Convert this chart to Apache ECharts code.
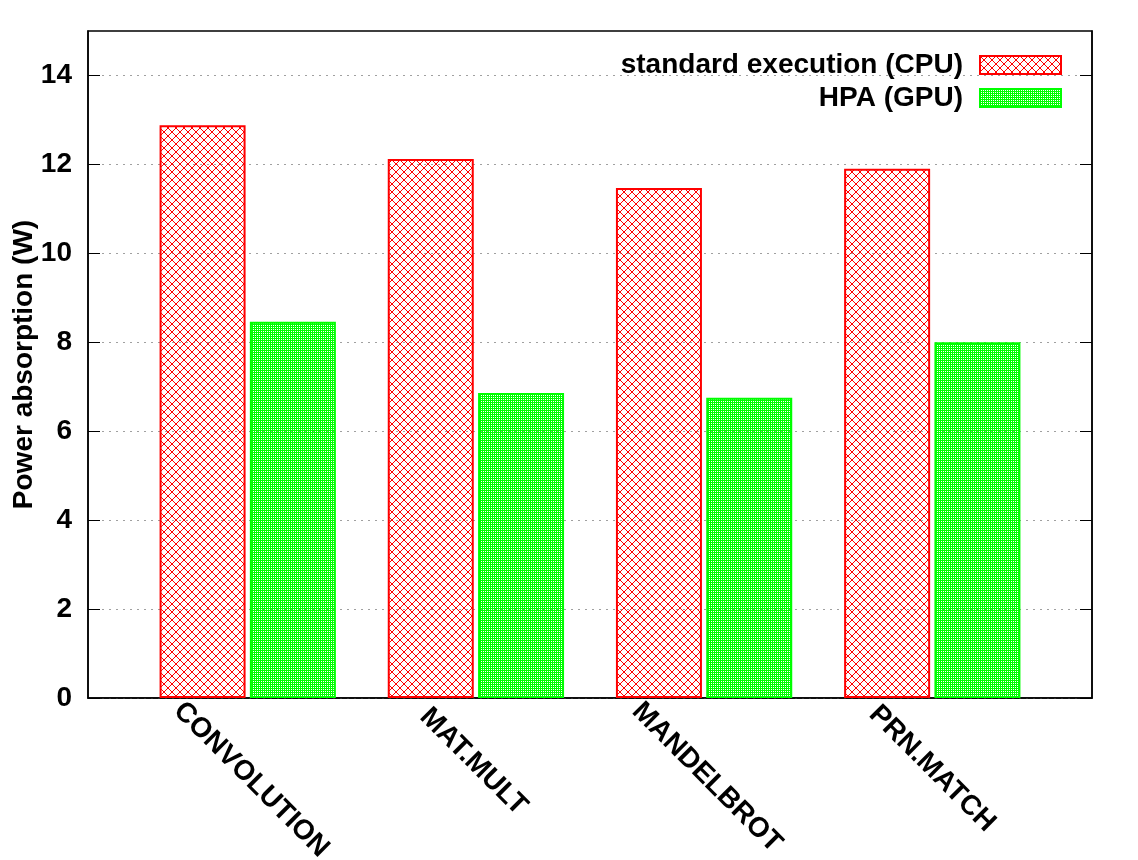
<!DOCTYPE html>
<html>
<head>
<meta charset="utf-8">
<script src="https://cdn.jsdelivr.net/npm/echarts@6/dist/echarts.min.js"></script>
<style>
  html, body { margin: 0; padding: 0; background: #fff; }
  #main { width: 1138px; height: 860px; }
</style>
</head>
<body>
<div id="main"></div>
<script>
var benchmarks = ['CONVOLUTION', 'MAT.MULT', 'MANDELBROT', 'PRN.MATCH'];
var cpuPower = [12.88, 12.12, 11.47, 11.9];
var gpuPower = [8.46, 6.86, 6.75, 8.0];
var seriesNames = ['standard execution (CPU)', 'HPA (GPU)'];
var yTicks = [0, 2, 4, 6, 8, 10, 12, 14];

var FONT = '"Liberation Sans", Arial, sans-serif';

// hatch patterns like gnuplot fill pattern
function redHatch() {
    var c = document.createElement('canvas');
    c.width = 8; c.height = 8;
    var ctx = c.getContext('2d');
    ctx.strokeStyle = '#ff0000';
    ctx.lineWidth = 1;
    ctx.beginPath();
    ctx.moveTo(0, 0); ctx.lineTo(8, 8);
    ctx.moveTo(8, 0); ctx.lineTo(0, 8);
    ctx.stroke();
    return c;
}
function greenHatch() {
    var c = document.createElement('canvas');
    c.width = 4; c.height = 4;
    var ctx = c.getContext('2d');
    ctx.fillStyle = '#00ff00';
    ctx.fillRect(0, 0, 4, 4);
    ctx.clearRect(1, 1, 1, 1);
    ctx.clearRect(3, 3, 1, 1);
    ctx.clearRect(3, 1, 1, 1);
    ctx.clearRect(1, 3, 1, 1);
    return c;
}

// x labels: rotated -45, centred under the bar pair
var measure = document.createElement('canvas').getContext('2d');
measure.font = 'bold 28px "Liberation Sans"';
var labelRich = {};
benchmarks.forEach(function (name, i) {
    var w = measure.measureText(name).width;
    labelRich['c' + i] = {
        fontFamily: FONT,
        fontSize: 28,
        fontWeight: 'bold',
        lineHeight: 28,
        color: '#000',
        padding: [28 + 0.25 * w, 0, 0, 14 + 0.5 * w]
    };
});

var cpuData = cpuPower.map(function (v, i) { return [i, v]; });
var gpuData = gpuPower.map(function (v, i) { return [i, v]; });

var myChart = echarts.init(document.getElementById('main'));

var option = {
    animation: false,
    textStyle: { fontFamily: FONT },
    grid: {
        left: 88, right: 46, top: 31, bottom: 162,
        show: true,
        borderColor: '#000',
        borderWidth: 1.5,
        outerBoundsMode: 'none'
    },
    legend: {
        data: seriesNames,
        orient: 'vertical',
        right: 71,
        top: 46,
        align: 'right',
        icon: 'rect',
        itemWidth: 81,
        itemHeight: 18,
        itemGap: 5,
        textStyle: {
            fontSize: 28,
            fontWeight: 'bold',
            color: '#000',
            lineHeight: 28,
            padding: [0, 12, 0, 0]
        }
    },
    xAxis: {
        type: 'value',
        min: -0.7,
        max: 3.7,
        splitLine: { show: false },
        axisTick: { show: false },
        axisLine: { show: true, onZero: false, lineStyle: { color: '#000', width: 1.5 } },
        axisLabel: {
            customValues: [0, 1, 2, 3],
            rotate: -45,
            align: 'center',
            verticalAlign: 'top',
            margin: 2,
            formatter: function (v) {
                var i = Math.round(v);
                return '{c' + i + '|' + benchmarks[i] + '}';
            },
            rich: labelRich
        }
    },
    yAxis: [{
        type: 'value',
        min: 0,
        max: 15,
        interval: 2,
        name: 'Power absorption (W)',
        nameLocation: 'middle',
        nameGap: 50,
        nameMoveOverlap: false,
        nameTextStyle: { fontSize: 28, fontWeight: 'bold', color: '#000' },
        axisLine: { show: true, onZero: false, lineStyle: { color: '#000', width: 1.5 } },
        axisTick: { show: true, inside: true, length: 12, customValues: yTicks, lineStyle: { color: '#000' } },
        axisLabel: {
            customValues: yTicks,
            fontSize: 28,
            fontWeight: 'bold',
            color: '#000',
            margin: 16
        },
        splitLine: {
            show: true,
            lineStyle: { color: '#a0a0a0', type: [2, 5], width: 1 }
        }
    }, {
        type: 'value',
        position: 'right',
        min: 0,
        max: 15,
        interval: 2,
        axisLine: { show: true, onZero: false, lineStyle: { color: '#000', width: 1.5 } },
        axisTick: { show: true, inside: true, length: 12, customValues: yTicks, lineStyle: { color: '#000' } },
        axisLabel: { show: false },
        splitLine: { show: false }
    }],
    series: [{
        name: seriesNames[0],
        type: 'bar',
        data: cpuData,
        barWidth: 86,
        barGap: '5%',
        itemStyle: {
            color: { image: redHatch(), repeat: 'repeat' },
            borderColor: '#ff0000',
            borderWidth: 2
        }
    }, {
        name: seriesNames[1],
        type: 'bar',
        data: gpuData,
        barWidth: 86,
        barGap: '5%',
        itemStyle: {
            color: { image: greenHatch(), repeat: 'repeat' },
            borderColor: '#00ff00',
            borderWidth: 2
        }
    }]
};

myChart.setOption(option);
</script>
</body>
</html>
